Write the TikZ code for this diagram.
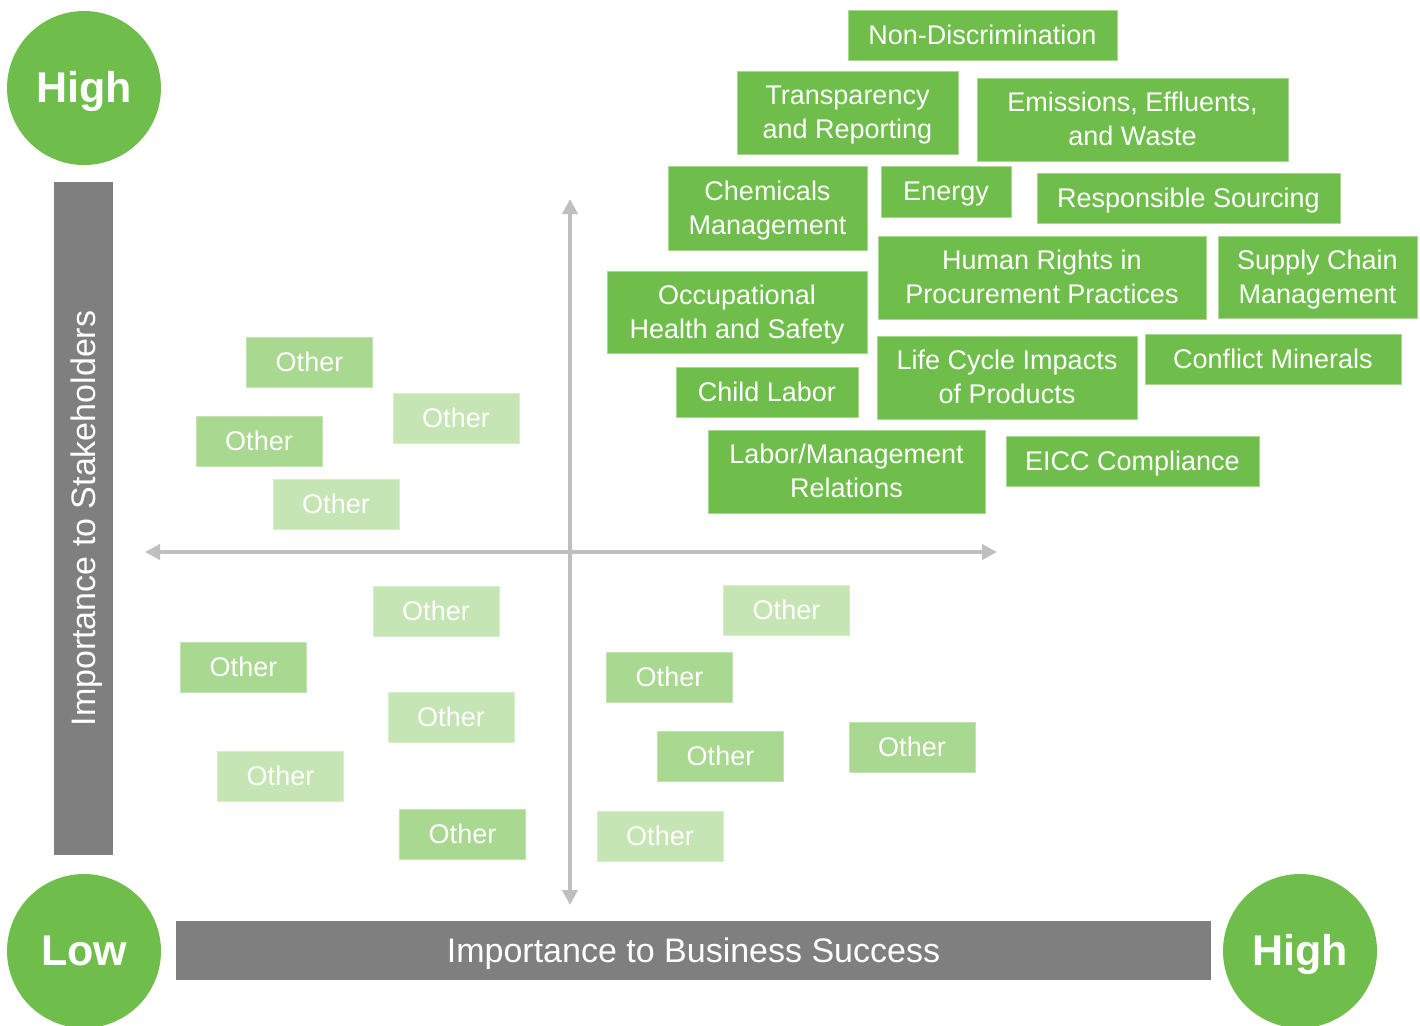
\documentclass[tikz,border=0pt]{standalone}
\usepackage{fontspec}
\setmainfont{Liberation Sans}
\usetikzlibrary{arrows.meta}
\definecolor{topicgreen}{HTML}{6FBE4B}
\definecolor{otherdark}{HTML}{A9D890}
\definecolor{otherlight}{HTML}{C6E5B5}
\definecolor{bargray}{HTML}{7F7F7F}
\definecolor{axisgray}{HTML}{BFBFBF}
\newcommand{\linestrut}{\vrule width 0pt height 0.905em depth 0.212em}
\tikzset{
  strutted/.style={execute at begin node=\linestrut, execute at end node=\linestrut},
  topic/.style={fill=topicgreen, draw=topicgreen!60!white, line width=0.5pt,
    text=white, align=center, inner sep=0pt, strutted,
    font=\fontsize{13.5}{17}\selectfont},
  other/.style={topic, fill=#1, draw=#1!70!white,
    minimum width=63pt, minimum height=25pt},
  badge/.style={circle, fill=topicgreen, text=white, inner sep=0pt, strutted,
    minimum size=77pt, font=\fontsize{21.5}{24}\selectfont\bfseries},
  axisbar/.style={fill=bargray, text=white, inner sep=0pt, strutted,
    font=\fontsize{17}{20}\selectfont},
  axisline/.style={axisgray, line width=2pt,
    {Triangle[width=7.5pt,length=7.5pt]}-{Triangle[width=7.5pt,length=7.5pt]}}
}
\begin{document}
\begin{tikzpicture}[x=0.5pt,y=-0.5pt]
\useasboundingbox (0,0) rectangle (1420,1025);
% axes
\coordinate (ytop) at (570,199);
\coordinate (ybot) at (570,905);
\coordinate (xleft) at (145,552);
\coordinate (xright) at (997,552);
\draw[axisline] (ybot) -- (ytop);
\draw[axisline] (xleft) -- (xright);
% bars and badges
\node[axisbar, minimum width=29.5pt, minimum height=336.5pt] (stakebar) at (83.5,518.5) {};
\node[axisbar, rotate=90] (stakelabel) at (83.5,518.5) {Importance to Stakeholders};
\node[axisbar, minimum width=517.5pt, minimum height=29.5pt] (bizbar) at (693.5,950.5) {Importance to Business Success};
\node[badge] (highy) at (84,88) {High};
\node[badge] (low) at (84,951) {Low};
\node[badge] (highx) at (1300,951) {High};
% material topics
\node[topic, minimum width=134.5pt, minimum height=25pt] (nondisc) at (982.5,35) {Non-Discrimination};
\node[topic, minimum width=110.5pt, minimum height=41.5pt] (transp) at (847.5,112.5) {\linestrut Transparency\\and Reporting};
\node[topic, minimum width=155.5pt, minimum height=41.5pt] (emis) at (1132.5,119.5) {\linestrut Emissions, Effluents,\\and Waste};
\node[topic, minimum width=99.5pt, minimum height=42pt] (chem) at (767.5,208) {\linestrut Chemicals\\Management};
\node[topic, minimum width=65pt, minimum height=25.5pt] (energy) at (946,191.5) {Energy};
\node[topic, minimum width=151.5pt, minimum height=25pt] (sourcing) at (1188.5,198) {Responsible Sourcing};
\node[topic, minimum width=130pt, minimum height=41pt] (ohs) at (737,312) {\linestrut Occupational\\Health and Safety};
\node[topic, minimum width=164pt, minimum height=41.5pt] (rights) at (1042,277.5) {\linestrut Human Rights in\\Procurement Practices};
\node[topic, minimum width=99.5pt, minimum height=41pt] (supply) at (1317.5,277) {\linestrut Supply Chain\\Management};
\node[topic, minimum width=91pt, minimum height=25pt] (child) at (767,392) {Child Labor};
\node[topic, minimum width=130pt, minimum height=41.5pt] (lifecycle) at (1007,377.5) {\linestrut Life Cycle Impacts\\of Products};
\node[topic, minimum width=128pt, minimum height=25pt] (conflict) at (1273,359) {Conflict Minerals};
\node[topic, minimum width=138.5pt, minimum height=41.5pt] (labor) at (846.5,471.5) {\linestrut Labor/Management\\Relations};
\node[topic, minimum width=126.5pt, minimum height=25pt] (eicc) at (1132.5,461) {EICC Compliance};
% other topics
\node[other=otherdark] (o1) at (309.5,362.5) {Other};
\node[other=otherlight] (o2) at (456,418.5) {Other};
\node[other=otherdark] (o3) at (259,441) {Other};
\node[other=otherlight] (o4) at (336,504.5) {Other};
\node[other=otherlight] (o5) at (436,611) {Other};
\node[other=otherdark] (o6) at (243.5,667) {Other};
\node[other=otherlight] (o7) at (451,717) {Other};
\node[other=otherlight] (o8) at (280.5,776) {Other};
\node[other=otherdark] (o9) at (462.5,834) {Other};
\node[other=otherlight] (o10) at (786.5,610) {Other};
\node[other=otherdark] (o11) at (669.5,677) {Other};
\node[other=otherdark] (o12) at (720.5,756) {Other};
\node[other=otherdark] (o13) at (912,747) {Other};
\node[other=otherlight] (o14) at (660,836) {Other};
\end{tikzpicture}
\end{document}
